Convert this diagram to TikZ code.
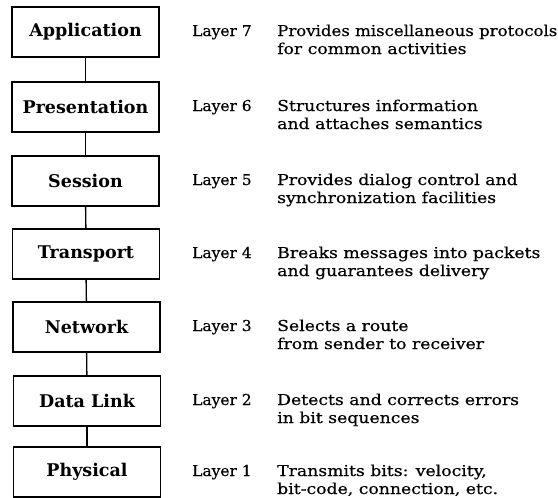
\documentclass[tikz,border=0pt]{standalone}
\usepackage{fontspec}
\setmainfont{DejaVu Serif}
\newfontfamily\descfont[FakeStretch=1.15,FakeBold=0.4]{DejaVu Serif}
\newfontfamily\descnarrowfont[FakeStretch=1.105,FakeBold=0.4]{DejaVu Serif}
\newfontfamily\lblfont[FakeStretch=1.03,FakeBold=0.4]{DejaVu Serif}
\begin{document}
\begin{tikzpicture}[x=1pt,y=-1pt,
  layerbox/.style={draw,line width=1.8pt,minimum width=147pt,minimum height=50pt,inner sep=0pt,font=\fontsize{17.5}{20}\selectfont\bfseries},
  lbl/.style={anchor=base west,inner sep=0pt,font=\lblfont\fontsize{15}{18}\selectfont},
  desc/.style={anchor=base west,inner sep=0pt,font=\descfont\fontsize{15}{18}\selectfont},
  descnarrow/.style={anchor=base west,inner sep=0pt,font=\descnarrowfont\fontsize{15}{18}\selectfont},
  link/.style={line width=1.4pt}]
\useasboundingbox[fill=white] (0,0) rectangle (558,498);
\node[layerbox] (l7) at (85.5,32) {Application};
\node[layerbox] (l6) at (85.5,107) {Presentation};
\node[layerbox] (l5) at (85.5,181) {Session};
\node[layerbox] (l4) at (86,254) {Transport};
\node[layerbox] (l3) at (86.5,327) {Network};
\node[layerbox] (l2) at (87,401) {Data Link};
\node[layerbox] (l1) at (87,472) {Physical};
\draw[link] (l7) -- (l6);
\draw[link] (l6) -- (l5);
\draw[link] (l5) -- (l4);
\draw[link] (l4) -- (l3);
\draw[link] (l3) -- (l2);
\draw[link] (l2) -- (l1);
\node[lbl] (t7) at (192,36) {Layer 7};
\node[descnarrow] (d7a) at (277,36) {Provides miscellaneous protocols};
\node[desc] (d7b) at (277,54) {for common activities};
\foreach \n/\c/\a/\b in {
  6/107/{Structures information}/{and attaches semantics},
  5/181/{Provides dialog control and}/{synchronization facilities},
  4/254/{Breaks messages into packets}/{and guarantees delivery},
  3/327/{Selects a route}/{from sender to receiver},
  2/401/{Detects and corrects errors}/{in bit sequences},
  1/472/{Transmits bits: velocity,}/{bit-code, connection, etc.}}{
  \node[lbl] (t\n) at (192,\c+4) {Layer \n};
  \node[desc] (d\n a) at (277,\c+4) {\a};
  \node[desc] (d\n b) at (277,\c+22) {\b};
}
\end{tikzpicture}
\end{document}
